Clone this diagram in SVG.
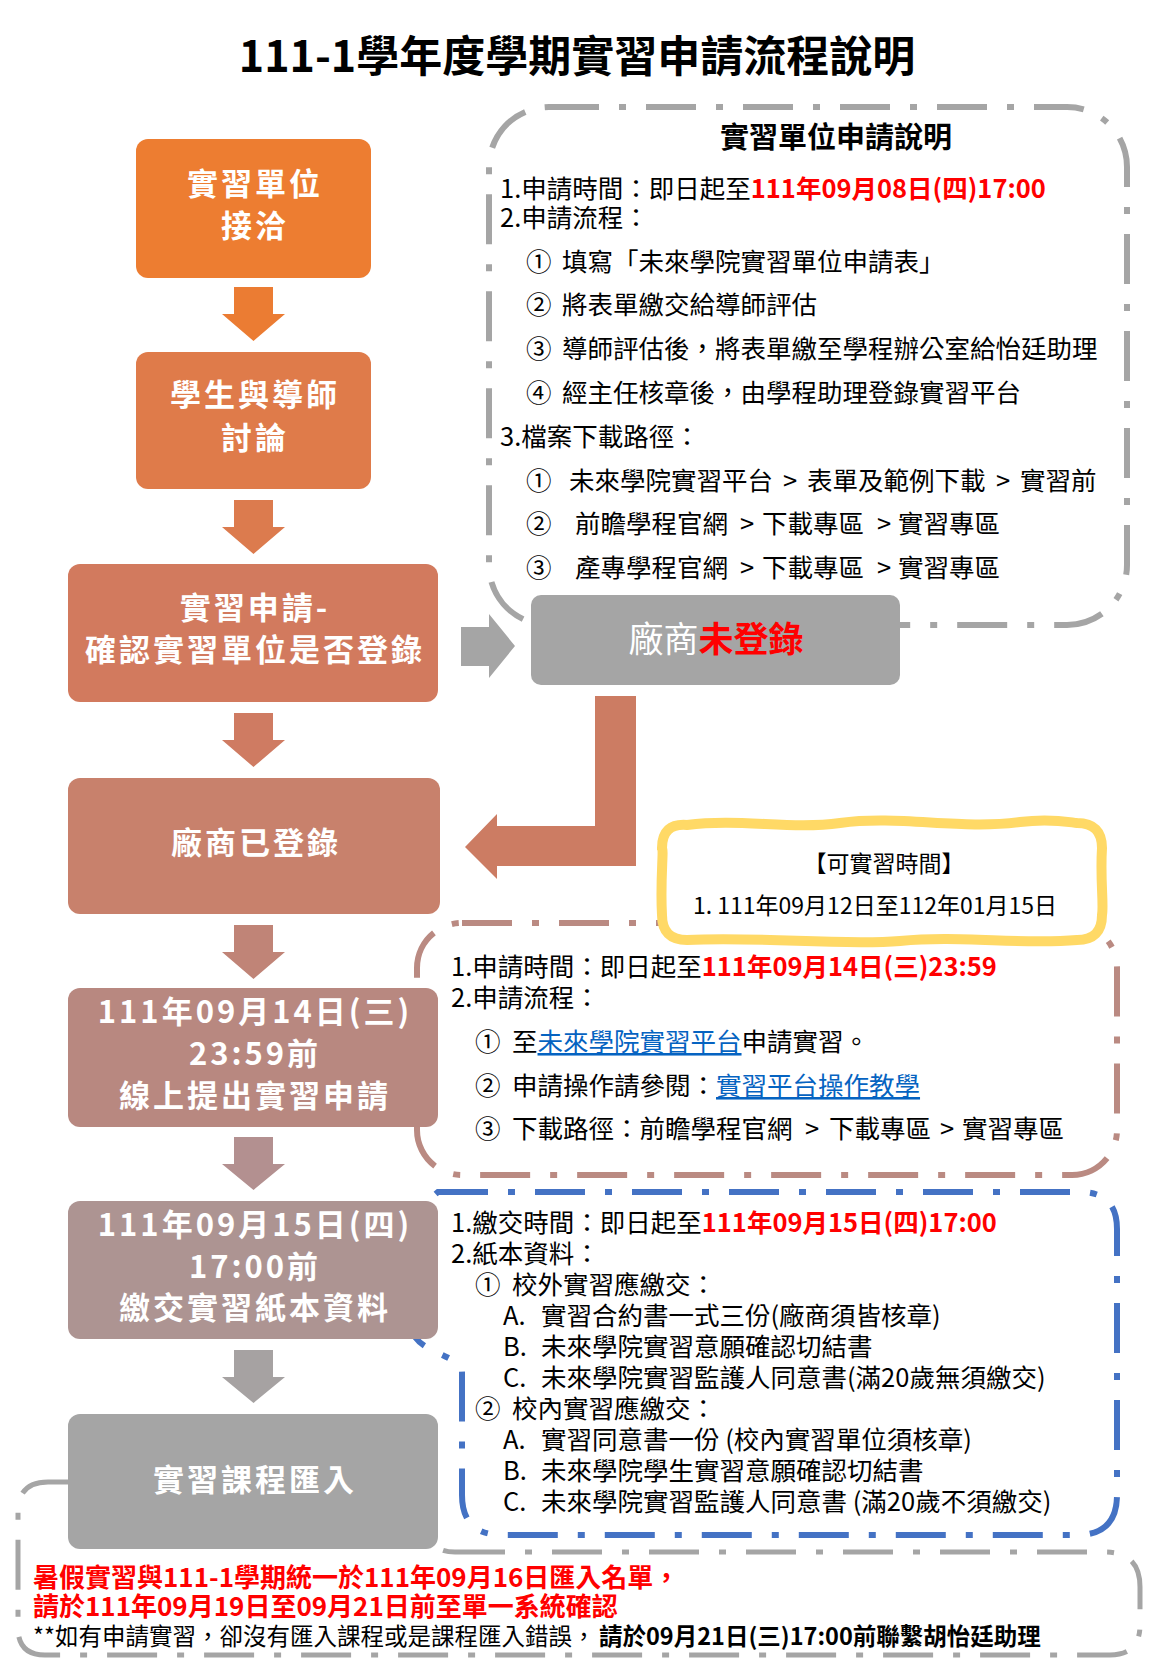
<svg xmlns="http://www.w3.org/2000/svg" width="1160" height="1675" viewBox="0 0 1160 1675">
<style>
text { font-family: 'Noto Sans CJK TC', 'Noto Sans CJK SC', sans-serif; }
.title { font-size: 43px; font-weight: bold; fill: #000; text-anchor: middle; }
.head { font-size: 29px; font-weight: bold; fill: #000; text-anchor: middle; }
.body { font-size: 25.5px; fill: #000; }
.red { fill: #FF0000; font-weight: bold; }
.link { fill: #0563C1; text-decoration: underline; }
.note { font-size: 26px; fill: #FF0000; font-weight: bold; }
.note2 { font-size: 23.5px; fill: #000; }
.nt { fill: #fff; font-size: 31px; font-weight: bold; letter-spacing: 3px; text-anchor: middle; }
.dash { fill: none; stroke-width: 6; stroke-dasharray: 50 20 7 20; }
</style>

<rect width="1160" height="1675" fill="#fff"/>

<text class="title" x="577" y="72">111-1學年度學期實習申請流程說明</text>

<!-- Panels -->
<g id="panel-unit-apply">
  <rect class="dash" x="489" y="107" width="638" height="518" rx="60" stroke="#A5A5A5"/>
  <text class="head" x="836" y="148">實習單位申請說明</text>
  <text class="body" x="500" y="198">1.申請時間：即日起至<tspan class="red">111年09月08日(四)17:00</tspan></text>
  <text class="body" x="500" y="227">2.申請流程：</text>
  <text class="body" y="271"><tspan x="526">①</tspan><tspan x="562">填寫「未來學院實習單位申請表」</tspan></text>
  <text class="body" y="314"><tspan x="526">②</tspan><tspan x="562">將表單繳交給導師評估</tspan></text>
  <text class="body" y="358"><tspan x="526">③</tspan><tspan x="562">導師評估後，將表單繳至學程辦公室給怡廷助理</tspan></text>
  <text class="body" y="402"><tspan x="526">④</tspan><tspan x="562">經主任核章後，由學程助理登錄實習平台</tspan></text>
  <text class="body" x="500" y="446">3.檔案下載路徑：</text>
  <text class="body" y="490"><tspan x="526">①</tspan><tspan x="569">未來學院實習平台</tspan><tspan x="783">&gt;</tspan><tspan x="807">表單及範例下載</tspan><tspan x="996">&gt;</tspan><tspan x="1020">實習前</tspan></text>
  <text class="body" y="533"><tspan x="526">②</tspan><tspan x="575">前瞻學程官網</tspan><tspan x="740">&gt;</tspan><tspan x="762">下載專區</tspan><tspan x="877">&gt;</tspan><tspan x="898">實習專區</tspan></text>
  <text class="body" y="577"><tspan x="526">③</tspan><tspan x="575">產專學程官網</tspan><tspan x="740">&gt;</tspan><tspan x="762">下載專區</tspan><tspan x="877">&gt;</tspan><tspan x="898">實習專區</tspan></text>
</g>

<g id="panel-online-apply">
  <rect class="dash" x="417" y="923" width="700" height="252" rx="45" stroke="#BA8A82"/>
  <text class="body" x="451" y="976">1.申請時間：即日起至<tspan class="red">111年09月14日(三)23:59</tspan></text>
  <text class="body" x="451" y="1007">2.申請流程：</text>
  <text class="body" y="1051"><tspan x="475">①</tspan><tspan x="512">至</tspan><tspan class="link">未來學院實習平台</tspan><tspan>申請實習。</tspan></text>
  <text class="body" y="1095"><tspan x="475">②</tspan><tspan x="512">申請操作請參閱：</tspan><tspan class="link">實習平台操作教學</tspan></text>
  <text class="body" y="1138"><tspan x="475">③</tspan><tspan x="512">下載路徑：前瞻學程官網</tspan><tspan x="805">&gt;</tspan><tspan x="829">下載專區</tspan><tspan x="940">&gt;</tspan><tspan x="962">實習專區</tspan></text>
</g>

<g id="panel-paper">
  <path class="dash" stroke="#4472C4" d="M 438,1192 L 1080,1192 Q 1117,1192 1117,1229 L 1117,1495 Q 1117,1535 1077,1535 L 502,1535 Q 462,1535 462,1495 L 462,1372 C 462,1355 413,1352 412,1328 L 412,1215 Z"/>
  <text class="body" x="451" y="1232">1.繳交時間：即日起至<tspan class="red">111年09月15日(四)17:00</tspan></text>
  <text class="body" x="451" y="1263">2.紙本資料：</text>
  <text class="body" y="1294"><tspan x="475">①</tspan><tspan x="512">校外實習應繳交：</tspan></text>
  <text class="body" y="1325"><tspan x="503">A.</tspan><tspan x="541">實習合約書一式三份(廠商須皆核章)</tspan></text>
  <text class="body" y="1356"><tspan x="503">B.</tspan><tspan x="541">未來學院實習意願確認切結書</tspan></text>
  <text class="body" y="1387"><tspan x="503">C.</tspan><tspan x="541">未來學院實習監護人同意書(滿20歲無須繳交)</tspan></text>
  <text class="body" y="1418"><tspan x="475">②</tspan><tspan x="512">校內實習應繳交：</tspan></text>
  <text class="body" y="1449"><tspan x="503">A.</tspan><tspan x="541">實習同意書一份 (校內實習單位須核章)</tspan></text>
  <text class="body" y="1480"><tspan x="503">B.</tspan><tspan x="541">未來學院學生實習意願確認切結書</tspan></text>
  <text class="body" y="1511"><tspan x="503">C.</tspan><tspan x="541">未來學院實習監護人同意書 (滿20歲不須繳交)</tspan></text>
</g>

<g id="panel-import-note">
  <path class="dash" stroke="#A5A5A5" style="stroke-width:5" d="M 455,1552 L 1105,1552 Q 1140,1552 1140,1587 L 1140,1625 Q 1140,1655 1110,1655 L 45,1655 Q 18,1655 18,1628 L 18,1512 Q 18,1482 48,1482 L 430,1482 L 430,1530 Q 430,1552 455,1552 Z"/>
  <text class="note" x="33" y="1587">暑假實習與111-1學期統一於111年09月16日匯入名單，</text>
  <text class="note" x="33" y="1616">請於111年09月19日至09月21日前至單一系統確認</text>
  <text class="note2" x="33" y="1645">**如有申請實習，卻沒有匯入課程或是課程匯入錯誤，<tspan x="599" font-weight="bold">請於09月21日(三)17:00前聯繫胡怡廷助理</tspan></text>
</g>

<g id="panel-period">
  <path fill="#fff" stroke="#FFD966" stroke-width="10" d="M 687,825 C 740,818 790,830 840,823 C 900,815 960,830 1020,822 C 1050,818 1068,822 1077,823 Q 1102,823 1102,848 C 1100,880 1104,905 1102,915 Q 1102,940 1077,940 C 1020,945 960,935 900,941 C 840,946 760,936 687,940 Q 662,940 662,915 C 660,880 664,850 662,848 Q 662,823 687,825 Z"/>
  <text class="body" x="884" y="872" text-anchor="middle" style="font-size:23px">【可實習時間】</text>
  <text class="body" x="875" y="914" text-anchor="middle" style="font-size:23px">1. 111年09月12日至112年01月15日</text>
</g>

<!-- Connectors -->
<g id="connectors">
  <polygon fill="#EB7C33" points="234,287 273,287 273,314 285,314 253.5,341 222,314 234,314"/>
  <polygon fill="#DC7B4E" points="234,500 273,500 273,527 285,527 253.5,554 222,527 234,527"/>
  <polygon fill="#CF7B62" points="234,713 273,713 273,740 285,740 253.5,767 222,740 234,740"/>
  <polygon fill="#C08477" points="234,925 273,925 273,952 285,952 253.5,979 222,952 234,952"/>
  <polygon fill="#B39090" points="234,1137 273,1137 273,1164 285,1164 253.5,1190 222,1164 234,1164"/>
  <polygon fill="#A6A2A2" points="234,1350 273,1350 273,1377 285,1377 253.5,1403 222,1377 234,1377"/>
  <polygon fill="#A5A5A5" points="461,627 489,627 489,614 515,646 489,678 489,666 461,666"/>
  <polygon fill="#CC7C63" points="595,696 636,696 636,866 497,866 497,879 465,847 497,814 497,826 595,826"/>
</g>

<!-- Nodes -->
<g id="node-contact">
  <rect x="136" y="139" width="235" height="139" rx="12" fill="#ED7D31"/>
  <text class="nt" x="255" y="194.5">實習單位</text>
  <text class="nt" x="255" y="237">接洽</text>
</g>
<g id="node-discuss">
  <rect x="136" y="352" width="235" height="137" rx="12" fill="#DF7B4A"/>
  <text class="nt" x="255" y="405.5">學生與導師</text>
  <text class="nt" x="255" y="448.5">討論</text>
</g>
<g id="node-check">
  <rect x="68" y="564" width="370" height="138" rx="12" fill="#D27A5E"/>
  <text class="nt" x="255" y="619">實習申請-</text>
  <text class="nt" x="255" y="661">確認實習單位是否登錄</text>
</g>
<g id="node-unregistered">
  <rect x="531" y="595" width="369" height="90" rx="10" fill="#A5A5A5"/>
  <text x="716" y="652" text-anchor="middle" style="font-size:35px"><tspan fill="#fff">廠商</tspan><tspan fill="#FF0000" font-weight="bold">未登錄</tspan></text>
</g>
<g id="node-registered">
  <rect x="68" y="778" width="372" height="136" rx="12" fill="#C8816C"/>
  <text class="nt" x="256" y="854">廠商已登錄</text>
</g>
<g id="node-online">
  <rect x="68" y="988" width="370" height="139" rx="12" fill="#B88880"/>
  <text class="nt" x="255" y="1022.5">111年09月14日(三)</text>
  <text class="nt" x="255" y="1065">23:59前</text>
  <text class="nt" x="255" y="1106.5">線上提出實習申請</text>
</g>
<g id="node-paper">
  <rect x="68" y="1201" width="370" height="138" rx="12" fill="#AD9492"/>
  <text class="nt" x="255" y="1235.5">111年09月15日(四)</text>
  <text class="nt" x="255" y="1277.5">17:00前</text>
  <text class="nt" x="255" y="1318.5">繳交實習紙本資料</text>
</g>
<g id="node-import">
  <rect x="68" y="1414" width="370" height="135" rx="12" fill="#A5A5A5"/>
  <text class="nt" x="255" y="1490.5">實習課程匯入</text>
</g>
</svg>
